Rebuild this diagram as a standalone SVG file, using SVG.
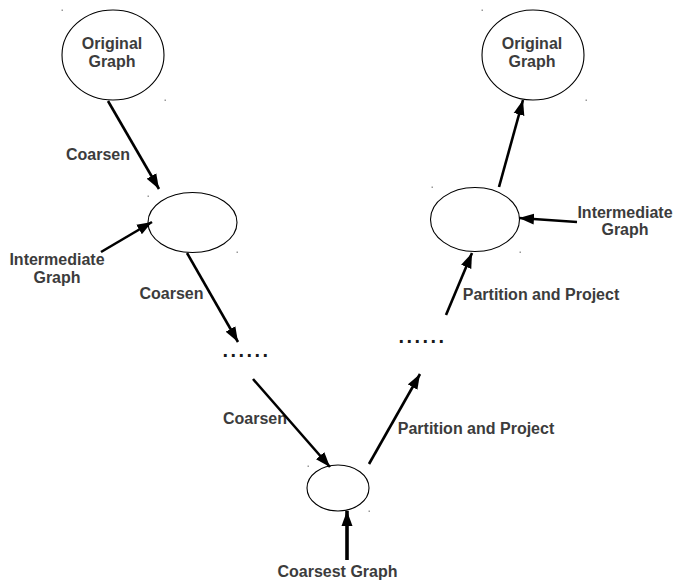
<svg xmlns="http://www.w3.org/2000/svg" width="674" height="581" viewBox="0 0 674 581">
<defs>
<marker id="ah" markerUnits="userSpaceOnUse" markerWidth="16" markerHeight="12" refX="15" refY="6" orient="auto">
<path d="M0,0.5 L15,6 L0,11.5 z" fill="#000"/>
</marker>
<style>
.node ellipse{fill:#fff;stroke:#000;stroke-width:1.1}
.lbl{font-family:"Liberation Sans",Arial,sans-serif;font-weight:bold;font-size:16px;fill:#3c3c3c;text-anchor:middle}
.dots{font-family:"Liberation Sans",Arial,sans-serif;font-weight:bold;font-size:20px;fill:#1a1a1a;letter-spacing:2.45px}
.edge{stroke:#000;stroke-width:2.6;fill:none;marker-end:url(#ah)}
.sp{fill:#999}
</style>
</defs>
<rect width="674" height="581" fill="#fff"/>
<g id="specks">
<rect class="sp" x="61.5" y="9.5" width="1.5" height="1.5"/>
<rect class="sp" x="164.5" y="99.5" width="1.5" height="1.5"/>
<rect class="sp" x="481.5" y="9.5" width="1.5" height="1.5"/>
<rect class="sp" x="585.5" y="99.5" width="1.5" height="1.5"/>
<rect class="sp" x="147.5" y="195.5" width="1.5" height="1.5"/>
<rect class="sp" x="236.5" y="251.5" width="1.5" height="1.5"/>
<rect class="sp" x="431.5" y="186.5" width="1.5" height="1.5"/>
<rect class="sp" x="519.5" y="251.5" width="1.5" height="1.5"/>
<rect class="sp" x="307.5" y="465.5" width="1.5" height="1.5"/>
<rect class="sp" x="368.5" y="510.5" width="1.5" height="1.5"/>
</g>
<g id="orig-left" class="node">
<ellipse cx="113" cy="55" rx="51" ry="45"/>
<text class="lbl" x="112" y="49">Original</text>
<text class="lbl" x="112" y="67">Graph</text>
</g>
<g id="orig-right" class="node">
<ellipse cx="533" cy="55" rx="51" ry="45"/>
<text class="lbl" x="532" y="49">Original</text>
<text class="lbl" x="532" y="67">Graph</text>
</g>
<g id="inter-left" class="node">
<ellipse cx="192.5" cy="222.5" rx="44.5" ry="30"/>
</g>
<g id="inter-right" class="node">
<ellipse cx="475" cy="219.5" rx="44.5" ry="32"/>
</g>
<g id="coarsest" class="node">
<ellipse cx="338" cy="488" rx="31" ry="23"/>
</g>
<g id="dots-left">
<text class="dots" x="222.5" y="357">......</text>
</g>
<g id="dots-right">
<text class="dots" x="398.5" y="343">......</text>
</g>
<g id="labels">
<text class="lbl" x="98" y="160">Coarsen</text>
<text class="lbl" x="57" y="265">Intermediate</text>
<text class="lbl" x="57" y="283">Graph</text>
<text class="lbl" x="171.5" y="299">Coarsen</text>
<text class="lbl" x="255" y="424">Coarsen</text>
<text class="lbl" x="541" y="300">Partition and Project</text>
<text class="lbl" x="476" y="434">Partition and Project</text>
<text class="lbl" x="625" y="218">Intermediate</text>
<text class="lbl" x="625" y="235">Graph</text>
<text class="lbl" x="337.5" y="577">Coarsest Graph</text>
</g>
<g id="connectors">
<line class="edge" x1="108" y1="101" x2="159" y2="189"/>
<line class="edge" x1="101" y1="252" x2="152" y2="222"/>
<line class="edge" x1="187" y1="253" x2="238" y2="342"/>
<line class="edge" x1="253" y1="379" x2="330" y2="467"/>
<line class="edge" x1="369" y1="464" x2="420" y2="374"/>
<line class="edge" x1="446" y1="315" x2="472" y2="253"/>
<line class="edge" x1="499" y1="187" x2="523" y2="100"/>
<line class="edge" x1="577" y1="222" x2="519" y2="218"/>
<line class="edge" x1="347" y1="560" x2="347" y2="511" style="stroke-width:3.6"/>
</g>
</svg>
